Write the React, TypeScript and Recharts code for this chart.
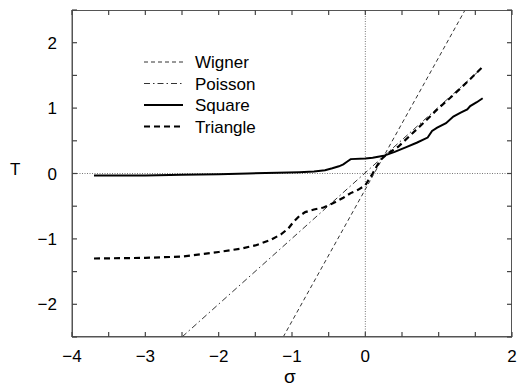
import { LineChart, Line, XAxis, YAxis, ReferenceLine } from "recharts";

document.body.style.margin = "0";

// σ / T values
const sigmaWigner = [-1.12, 1.36];
const tWigner = [-2.5, 2.5];

const sigmaPoisson = [-2.5, 1.6];
const tPoisson = [-2.5, 1.62];

const sigmaSquare = [-3.7, -3.0, -2.5, -2.0, -1.6, -1.2, -0.9, -0.7, -0.55, -0.45, -0.36, -0.3, -0.25, -0.2, 0, 0.1, 0.25, 0.4, 0.55, 0.7, 0.85, 0.91, 0.98, 1.1, 1.2, 1.3, 1.39, 1.43, 1.52, 1.6];
const tSquare = [-0.03, -0.03, -0.02, -0.01, 0, 0.01, 0.02, 0.03, 0.05, 0.08, 0.11, 0.14, 0.18, 0.22, 0.23, 0.24, 0.27, 0.33, 0.4, 0.47, 0.55, 0.65, 0.7, 0.77, 0.87, 0.93, 0.98, 1.03, 1.09, 1.15];

const sigmaTriangle = [-3.7, -3.0, -2.5, -2.2, -2.0, -1.7, -1.5, -1.3, -1.15, -1.05, -0.98, -0.9, -0.82, -0.7, -0.57, -0.45, -0.3, -0.2, -0.1, 0, 0.1, 0.2, 0.3, 0.45, 0.6, 0.8, 1.0, 1.2, 1.4, 1.6];
const tTriangle = [-1.3, -1.29, -1.27, -1.23, -1.2, -1.15, -1.1, -1.02, -0.93, -0.84, -0.74, -0.65, -0.59, -0.55, -0.52, -0.46, -0.37, -0.3, -0.25, -0.18, 0.0, 0.2, 0.3, 0.41, 0.57, 0.78, 1.0, 1.2, 1.41, 1.63];

const xTicks = [-4, -3.5, -3, -2.5, -2, -1.5, -1, -0.5, 0, 0.5, 1, 1.5, 2];
const xLabels = ["−4", "", "−3", "", "−2", "", "−1", "", "0", "", "", "", "2"];
const yTicks = [-2.5, -2, -1.5, -1, -0.5, 0, 0.5, 1, 1.5, 2, 2.5];
const yLabels = ["", "−2", "", "−1", "", "0", "", "1", "", "2", ""];

const toRows = (s: number[], t: number[]) => s.map((v, i) => ({ s: v, T: t[i] }));

const series = [
  { name: "Wigner", rows: toRows(sigmaWigner, tWigner), dash: "4 3", width: 1, color: "#333" },
  { name: "Poisson", rows: toRows(sigmaPoisson, tPoisson), dash: "6 3 1.5 3", width: 1, color: "#333" },
  { name: "Square", rows: toRows(sigmaSquare, tSquare), dash: undefined, width: 2, color: "#000" },
  { name: "Triangle", rows: toRows(sigmaTriangle, tTriangle), dash: "6 4", width: 2.2, color: "#000" },
];

const FONT = "'Liberation Sans', Arial, Helvetica, sans-serif";
const TICK = 5;

// plot box (must agree with the chart margins below)
const PL = 72, PT = 10, PW = 440, PH = 327;

const BottomTick = (p: any) => {
  const i = xTicks.indexOf(p.payload.value);
  return (
    <text x={p.x} y={p.y + 25} textAnchor="middle" fontSize={17} fontFamily={FONT} fill="#000">
      {xLabels[i]}
    </text>
  );
};

const LeftTick = (p: any) => {
  const i = yTicks.indexOf(p.payload.value);
  return (
    <text x={p.x - 15} y={p.y + 6} textAnchor="end" fontSize={17} fontFamily={FONT} fill="#000">
      {yLabels[i]}
    </text>
  );
};

// inward ticks on all four sides
const TickMarks = () => {
  const fx = (v: number) => PL + ((v + 4) / 6) * PW;
  const fy = (v: number) => PT + ((2.5 - v) / 5) * PH;
  return (
    <svg
      width={517}
      height={388}
      style={{ position: "absolute", left: 0, top: 0, pointerEvents: "none", zIndex: 2 }}
    >
      {xTicks.map((v) => (
        <g key={"x" + v}>
          <line x1={fx(v)} x2={fx(v)} y1={PT} y2={PT + TICK} stroke="#444" strokeWidth={1.2} />
          <line x1={fx(v)} x2={fx(v)} y1={PT + PH} y2={PT + PH - TICK} stroke="#444" strokeWidth={1.2} />
        </g>
      ))}
      {yTicks.map((v) => (
        <g key={"y" + v}>
          <line x1={PL} x2={PL + TICK} y1={fy(v)} y2={fy(v)} stroke="#444" strokeWidth={1.2} />
          <line x1={PL + PW} x2={PL + PW - TICK} y1={fy(v)} y2={fy(v)} stroke="#444" strokeWidth={1.2} />
        </g>
      ))}
    </svg>
  );
};

const LegendBox = () => (
  <svg width={140} height={90} style={{ position: "absolute", left: 144, top: 54, overflow: "visible" }}>
    {series.map((s, i) => (
      <g key={s.name}>
        <line
          x1={0}
          x2={39}
          y1={i * 21.5 + 8}
          y2={i * 21.5 + 8}
          stroke={s.color}
          strokeWidth={s.width}
          strokeDasharray={s.dash}
        />
        <text x={51} y={i * 21.5 + 14} fontSize={17} fontFamily={FONT} fill="#000">
          {s.name}
        </text>
      </g>
    ))}
  </svg>
);

export default function App() {
  return (
    <div style={{ position: "relative", width: 517, height: 388, overflow: "hidden" }}>
      <LineChart width={517} height={388} margin={{ top: PT, right: 517 - PL - PW, bottom: 11, left: 0 }}>
        <XAxis
          dataKey="s"
          type="number"
          domain={[-4, 2]}
          ticks={xTicks}
          interval={0}
          allowDataOverflow
          height={40}
          tickSize={0}
          tickMargin={0}
          tickLine={false}
          axisLine={{ stroke: "#555" }}
          tick={<BottomTick />}
        />
        <YAxis
          type="number"
          domain={[-2.5, 2.5]}
          ticks={yTicks}
          interval={0}
          allowDataOverflow
          width={PL}
          tickSize={0}
          tickMargin={0}
          tickLine={false}
          axisLine={{ stroke: "#555" }}
          tick={<LeftTick />}
        />
        <ReferenceLine x={0} stroke="#777" strokeDasharray="1 1.5" />
        <ReferenceLine y={0} stroke="#777" strokeDasharray="1 1.5" />
        {series.map((s) => (
          <Line
            key={s.name}
            data={s.rows}
            dataKey="T"
            name={s.name}
            type="linear"
            stroke={s.color}
            strokeWidth={s.width}
            strokeDasharray={s.dash}
            dot={false}
            isAnimationActive={false}
          />
        ))}
      </LineChart>
      {/* plot frame as a plain bordered box */}
      <div
        style={{
          position: "absolute",
          left: PL,
          top: PT,
          width: PW,
          height: PH,
          boxSizing: "border-box",
          border: "1px solid #555",
          pointerEvents: "none",
          zIndex: 2,
        }}
      />
      <TickMarks />
      <LegendBox />
      <div style={{ position: "absolute", left: 10, top: 160, fontFamily: FONT, fontSize: 17 }}>T</div>
      <div style={{ position: "absolute", left: 284, top: 366, fontFamily: FONT, fontSize: 19 }}>σ</div>
    </div>
  );
}
